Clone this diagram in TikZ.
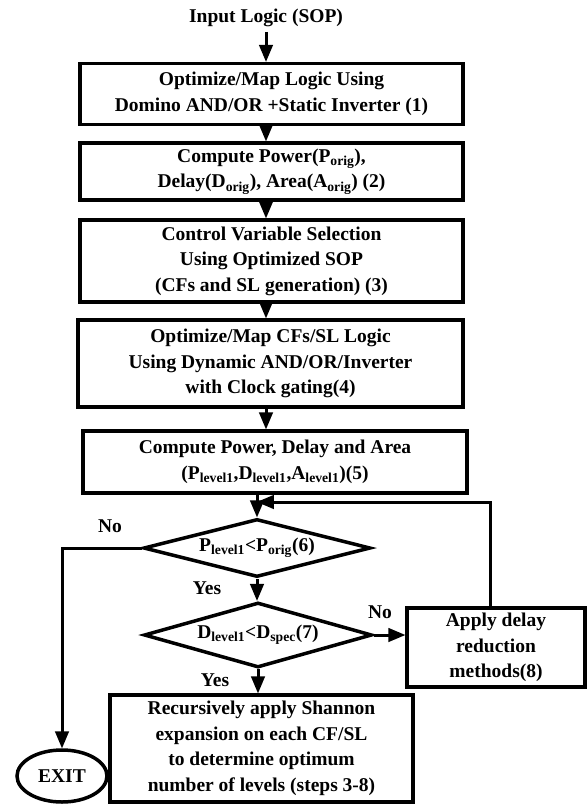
\documentclass[tikz,border=0pt]{standalone}
\usepackage{fontspec}
\setmainfont{Liberation Serif}
\usepackage{tikz}
\usetikzlibrary{calc}
\usetikzlibrary{arrows,shapes}
\newcommand{\Porig}{P\textsubscript{orig}}
\newcommand{\Dorig}{D\textsubscript{orig}}
\newcommand{\Aorig}{A\textsubscript{orig}}
\newcommand{\PLvl}{P\textsubscript{level1}}
\newcommand{\DLvl}{D\textsubscript{level1}}
\newcommand{\ALvl}{A\textsubscript{level1}}
\newcommand{\Dspec}{D\textsubscript{spec}}

\begin{document}
\begin{tikzpicture}[x=1pt,y=-1pt,>=triangle 45,line width=3pt,
    font=\fontsize{19.5}{25.5}\selectfont\bfseries,
    box/.style={draw,line width=3.5pt,align=center,inner sep=1pt},
    dia/.style={draw,diamond,aspect=4,inner sep=0pt,line width=3.5pt}]

  \useasboundingbox (0,0) rectangle (587,806);

  % main column of steps
  \node (in) at (266,18) {Input Logic (SOP)};
  \node[box,minimum width=383pt,minimum height=61pt] (b1) at (271.5,94)
      {Optimize/Map Logic Using\\Domino AND/OR +Static Inverter (1)};
  \node[box,minimum width=383pt,minimum height=57pt] (b2) at (271.5,171.5)
      {Compute Power(\Porig),\\Delay(\Dorig), Area(\Aorig) (2)};
  \node[box,minimum width=383pt,minimum height=82pt] (b3) at (271.5,261)
      {Control Variable Selection\\Using Optimized SOP\\(CFs and SL generation) (3)};
  \node[box,minimum width=385pt,minimum height=87pt] (b4) at (270.5,363.5)
      {Optimize/Map CFs/SL Logic\\Using Dynamic AND/OR/Inverter\\with Clock gating(4)};
  \node[box,minimum width=384pt,minimum height=62pt] (b5) at (275,462)
      {Compute Power, Delay and Area\\(\PLvl,\DLvl,\ALvl)(5)};

  % checks
  \node[dia,minimum width=227pt,minimum height=58pt] (d1) at (257,548) {\PLvl<\Porig(6)};
  \node[dia,minimum width=228pt,minimum height=65pt] (d2) at (258,635) {\DLvl<\Dspec(7)};

  \node[box,minimum width=178pt,minimum height=79pt] (b8) at (496,647.5)
      {Apply delay\\reduction\\methods(8)};
  \node[box,minimum width=303pt,minimum height=107pt] (b6) at (261.5,748.5)
      {Recursively apply Shannon\\expansion on each CF/SL\\to determine optimum\\number of levels (steps 3-8)};
  \node[draw,ellipse,line width=3.5pt,minimum width=90pt,minimum height=52pt,inner sep=0pt]
      (exit) at (62,776) {EXIT};

  \node (no1) at (110,526) {No};
  \node (yes1) at (207,588) {Yes};
  \node (no2) at (380,612) {No};
  \node (yes2) at (215,680) {Yes};

  \coordinate (loop) at (257,502);

  \draw[->] (in) -- (in |- b1.north);
  \draw[->] (b1.south -| in) -- (b2.north -| in);
  \draw[->] (b2.south -| in) -- (b3.north -| in);
  \draw[->] (b3.south -| in) -- (b4.north -| in);
  \draw[->] (b4.south -| in) -- (b5.north -| in);
  \draw[->] (b5.south -| d1.north) -- (d1.north);
  \draw[->] (d1.south) -- (d1.south |- d2.north);
  \draw[->] (d2.south) -- (d2.south |- b6.north);
  \draw[->] (d2.east) -- (d2.east -| b8.west);
  \draw[->] ($(b8.north)+(-6,0)$) |- (loop);
  \draw[->] (d1.west) -| (exit.north);
\end{tikzpicture}
\end{document}
